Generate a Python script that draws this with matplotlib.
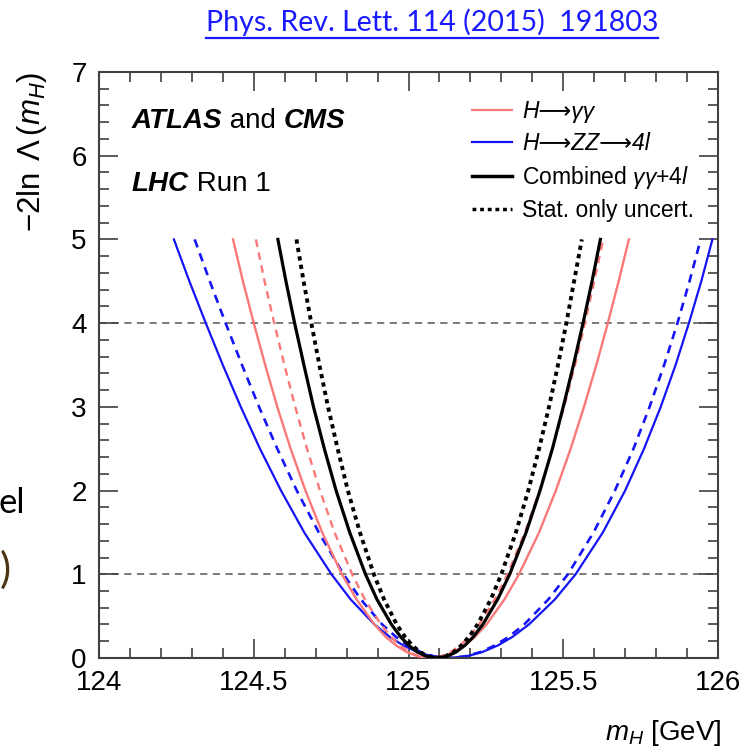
import matplotlib.pyplot as plt
from matplotlib.lines import Line2D
from matplotlib.ticker import MultipleLocator

plt.rcParams['font.family'] = ['Liberation Sans', 'DejaVu Sans']
plt.rcParams['mathtext.fontset'] = 'custom'
plt.rcParams['mathtext.rm'] = 'Liberation Sans'
plt.rcParams['mathtext.it'] = 'Liberation Sans:italic'

# -2 ln Lambda(m_H) scans.
# Every scan is sampled at the same -2lnL levels, left branch then right.
nll_levels = [5.0, 4.5, 4.0, 3.5, 3.0, 2.5, 2.0, 1.5, 1.0, 0.7, 0.4, 0.25, 0.15,
              0.07, 0.02, 0.0, 0.02, 0.07, 0.15, 0.25, 0.4, 0.7, 1.0, 1.5, 2.0,
              2.5, 3.0, 3.5, 4.0, 4.5, 5.0]

# H -> gamma gamma
m_gg = [124.433, 124.465, 124.500, 124.537, 124.576, 124.619, 124.667, 124.721,
        124.785, 124.832, 124.890, 124.927, 124.960, 124.995, 125.030, 125.070,
        125.111, 125.146, 125.181, 125.214, 125.252, 125.310, 125.357, 125.422,
        125.476, 125.524, 125.567, 125.607, 125.644, 125.679, 125.712]
m_gg_stat = [124.507, 124.535, 124.566, 124.599, 124.634, 124.672, 124.714,
             124.761, 124.818, 124.859, 124.911, 124.944, 124.972, 125.003,
             125.034, 125.070, 125.105, 125.136, 125.167, 125.195, 125.228,
             125.279, 125.320, 125.376, 125.424, 125.465, 125.503, 125.538,
             125.570, 125.600, 125.629]

# H -> ZZ -> 4l
m_zz = [124.242, 124.292, 124.345, 124.400, 124.458, 124.520, 124.588, 124.663,
        124.751, 124.813, 124.890, 124.940, 124.983, 125.030, 125.076, 125.130,
        125.188, 125.238, 125.289, 125.335, 125.389, 125.473, 125.540, 125.628,
        125.700, 125.761, 125.815, 125.863, 125.906, 125.946, 125.982]
m_zz_stat = [124.309, 124.358, 124.409, 124.462, 124.517, 124.576, 124.639,
             124.710, 124.790, 124.846, 124.915, 124.960, 124.998, 125.040,
             125.082, 125.130, 125.184, 125.232, 125.279, 125.323, 125.374,
             125.452, 125.515, 125.598, 125.667, 125.727, 125.779, 125.826,
             125.869, 125.908, 125.944]

# combined gamma gamma + 4l
m_comb = [124.578, 124.604, 124.632, 124.662, 124.693, 124.728, 124.766,
          124.810, 124.861, 124.898, 124.945, 124.975, 125.001, 125.029,
          125.058, 125.090, 125.124, 125.153, 125.182, 125.209, 125.240,
          125.288, 125.327, 125.380, 125.425, 125.465, 125.500, 125.533,
          125.564, 125.593, 125.620]
m_comb_stat = [124.638, 124.661, 124.686, 124.712, 124.740, 124.771, 124.804,
               124.843, 124.888, 124.921, 124.962, 124.989, 125.012, 125.037,
               125.061, 125.090, 125.120, 125.146, 125.171, 125.195, 125.223,
               125.266, 125.300, 125.347, 125.387, 125.422, 125.454, 125.483,
               125.510, 125.535, 125.560]

sigma_levels = [1, 4]
x_ticks = [124, 124.5, 125, 125.5, 126]
x_tick_labels = ['124', '124.5', '125', '125.5', '126']

RED = '#fa7878'
BLUE = '#1414f5'
DASH = (0, (3.2, 2.4))
DOT = (0, (1.1, 1.1))

fig = plt.figure(figsize=(7.53, 7.50), dpi=100)
ax = fig.add_axes([0.1315, 0.1227, 0.822, 0.7813])

for lvl in sigma_levels:
    ax.axhline(lvl, color='#707070', lw=1.3, ls=(0, (4, 3)), zorder=1)

ax.plot(m_zz_stat, nll_levels, color=BLUE, lw=1.9, ls=DASH, zorder=2)
ax.plot(m_zz, nll_levels, color=BLUE, lw=1.6, zorder=2)
ax.plot(m_gg_stat, nll_levels, color=RED, lw=1.7, ls=DASH, zorder=3)
ax.plot(m_gg, nll_levels, color=RED, lw=1.7, zorder=3)
ax.plot(m_comb_stat, nll_levels, color='black', lw=2.8, ls=DOT, zorder=4)
ax.plot(m_comb, nll_levels, color='black', lw=2.3, zorder=4)

ax.set_xlim(124, 126)
ax.set_ylim(0, 7)
ax.set_xticks(x_ticks)
ax.set_xticklabels(x_tick_labels)
ax.xaxis.set_minor_locator(MultipleLocator(0.1))
ax.yaxis.set_major_locator(MultipleLocator(1))
ax.yaxis.set_minor_locator(MultipleLocator(0.2))

ax.tick_params(which='both', direction='in', top=True, right=True,
               color='#404040', width=1.2)
ax.tick_params(which='major', length=14, labelsize=20, pad=9)
ax.tick_params(which='minor', length=7)
for sp in ax.spines.values():
    sp.set_color('#404040')
    sp.set_linewidth(1.5)

ax.set_ylabel(r'$-2\ln\;\Lambda\,(m_{H})$', fontsize=22.5, loc='top')
ax.yaxis.label.set_va('center')
ax.yaxis.set_label_coords(-0.108, 1.0)
ax.set_xlabel(r'$m_{H}$ [GeV]', fontsize=20, loc='right')
ax.xaxis.label.set_va('center')
ax.xaxis.set_label_coords(1.006, -0.128)

# experiment / run tags, pieces chained so the styles can mix
t = ax.text(0.053, 0.895, 'ATLAS', transform=ax.transAxes, fontsize=20,
            fontweight='bold', style='italic', va='bottom')
t = ax.annotate(' and ', xycoords=t, xy=(1, 0), fontsize=20, va='bottom')
ax.annotate('CMS', xycoords=t, xy=(1, 0), fontsize=20, fontweight='bold',
            style='italic', va='bottom')
t = ax.text(0.053, 0.786, 'LHC', transform=ax.transAxes, fontsize=20,
            fontweight='bold', style='italic', va='bottom')
ax.annotate(' Run 1', xycoords=t, xy=(1, 0), fontsize=20, va='bottom')

handles = [Line2D([], [], color=RED, lw=1.6),
           Line2D([], [], color=BLUE, lw=1.6),
           Line2D([], [], color='black', lw=2.5),
           Line2D([], [], color='black', lw=2.5, ls=DOT)]
labels = ['H⟶γγ', 'H⟶ZZ⟶4l', r'Combined $\gamma\gamma$+4$l$',
          'Stat. only uncert.']
leg = ax.legend(handles, labels, loc='upper left', bbox_to_anchor=(0.603, 0.952),
                frameon=False, fontsize=16.5, handlelength=1.75,
                handletextpad=0.43, labelspacing=0.38, borderpad=0,
                borderaxespad=0)
for txt in leg.get_texts()[:2]:
    txt.set_style('italic')

# reference link above the plot, underlined
ref = fig.text(0.574, 0.970, 'Phys. Rev. Lett. 114 (2015)  191803',
               color='#1a1aff', fontsize=20.5, family='Lato',
               ha='center', va='center')
fig.canvas.draw()
bb = ref.get_window_extent().transformed(fig.transFigure.inverted())
fig.add_artist(Line2D([bb.x0, bb.x1], [bb.y0 - 0.002, bb.y0 - 0.002],
                      color='#1a1aff', lw=1.6))

# bits of slide text at the left edge
fig.text(-0.002, 0.329, 'el', fontsize=25, family='Lato', va='center')
fig.text(0.0, 0.24, ')', fontsize=30, family='Lato', color='#4a3510',
         va='center')

fig.savefig('out.png', dpi=100)
